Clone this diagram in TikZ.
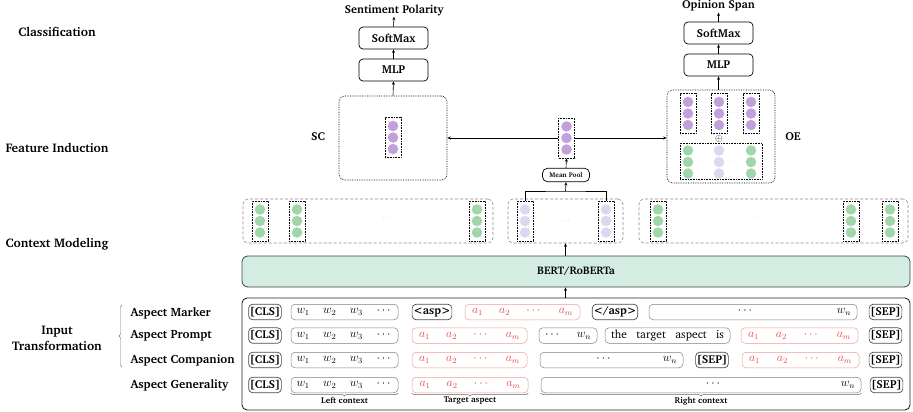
\documentclass[tikz,border=0pt]{standalone}
\usepackage[T1]{fontenc}
\usepackage{charter}
\usepackage{amsmath,amssymb}
\usetikzlibrary{arrows.meta,decorations.pathreplacing}

\definecolor{dotGreen}{RGB}{160,214,170}
\definecolor{dotLav}{RGB}{217,217,240}
\definecolor{dotPurple}{RGB}{193,160,220}
\definecolor{bertFill}{RGB}{212,237,227}
\definecolor{aspRed}{RGB}{232,72,72}

\tikzstyle{greenDot}=[shape = circle, minimum size = 10.5pt, inner sep = 0pt, fill = dotGreen]
\tikzstyle{lavDot}=[shape = circle, minimum size = 10.5pt, inner sep = 0pt, fill = dotLav]
\tikzstyle{purpleDot}=[shape = circle, minimum size = 10.5pt, inner sep = 0pt, fill = dotPurple]
\tikzstyle{vecCol}=[shape = rectangle, minimum width = 16pt, minimum height = 40pt, inner sep = 0pt, draw, densely dotted, line width = 0.6pt]
\tikzstyle{layerBox}=[shape = rectangle, rounded corners = 4pt, minimum width = 69pt, minimum height = 22pt, draw, line width = 0.7pt, font = \bfseries\fontsize{11.5}{13}\selectfont]
\tikzstyle{stageLabel}=[font = \bfseries\fontsize{12.5}{16}\selectfont]
\tikzstyle{arrowLine}=[-{Stealth[length = 3.5pt, width = 3pt]}, line width = 0.6pt]

% one feature vector: dotted frame and three dots
\newcommand{\vecColumn}[4]{%
  \node[vecCol] (#1) at (#2,#3) {};
  \node[#4] (#1a) at (#2,#3-11.5) {};
  \node[#4] (#1b) at (#2,#3) {};
  \node[#4] (#1c) at (#2,#3+11.5) {};
}
\newcommand{\spread}[2]{\hbox to #1{#2}}

\begin{document}
\begin{tikzpicture}[x = 1pt, y = -1pt]
\tikzstyle{specialTok}=[shape = rectangle, rounded corners = 4pt, minimum height = 15.5pt, inner sep = 1.2pt, draw = black!70, line width = 0.7pt, font = \bfseries\fontsize{11.5}{13}\selectfont]
\tikzstyle{wordTok}=[shape = rectangle, rounded corners = 4pt, minimum height = 15.5pt, inner sep = 0pt, draw = black!50, line width = 0.5pt, font = \fontsize{11.5}{13}\selectfont]
\tikzstyle{aspectTok}=[wordTok, draw = aspRed!55, text = aspRed]
\tikzstyle{ctxBox}=[shape = rectangle, rounded corners = 5pt, minimum height = 44pt, inner sep = 0pt, draw = black!45, densely dashed, line width = 0.6pt]
\tikzstyle{headBox}=[shape = rectangle, rounded corners = 6pt, inner sep = 0pt, draw, densely dotted, line width = 0.7pt]
\tikzstyle{rowLabel}=[anchor = west, font = \bfseries\fontsize{12}{14}\selectfont]
\tikzstyle{headLabel}=[font = \bfseries\fontsize{11.5}{13}\selectfont]
\tikzstyle{braceLine}=[decorate, decoration = {brace, mirror, amplitude = 3pt}, black!60, line width = 0.5pt]
\tikzstyle{braceText}=[midway, below = 0.3pt, black, font = \bfseries\fontsize{8.5}{10}\selectfont]
\tikzstyle{smallDots}=[text = black!60, font = \tiny]
\useasboundingbox (0,0) rectangle (913,412);

% stage names
\node[stageLabel] (clsStage) at (57,32) {Classification};
\node[stageLabel] (featStage) at (57,148) {Feature Induction};
\node[stageLabel] (ctxStage) at (57,244) {Context Modeling};
\node[stageLabel, align = center] (inStage) at (57,338) {Input\\Transformation};

\node[rowLabel] (markerLbl) at (127,313) {Aspect Marker};
\node[rowLabel] (promptLbl) at (127,335.5) {Aspect Prompt};
\node[rowLabel] (compLbl) at (127,360.5) {Aspect Companion};
\node[rowLabel] (genLbl) at (127,385.5) {Aspect Generality};
\draw[decorate, decoration = {brace, amplitude = 3pt}, black!55, line width = 0.4pt] (122,367) -- (122,305);

% input sequences
\node[shape = rectangle, rounded corners = 5pt, minimum width = 668pt, minimum height = 112pt, draw = black!85, line width = 0.9pt] (inputFrame) at (576,354) {};

\node[specialTok] (cls1) at (265,312) {[CLS]};
\node[wordTok, minimum width = 107pt] (left1) at (344.5,312) {\spread{96pt}{$w_1$\hfill$w_2$\hfill$w_3$\hfill$\cdots$}};
\node[specialTok] (aspOpen) at (432,312) {\textless asp\textgreater};
\node[aspectTok, minimum width = 115pt] (tgt1) at (522.5,312) {\spread{101pt}{$a_1$\hfill$a_2$\hfill$\cdots$\hfill$a_m$}};
\node[specialTok] (aspClose) at (615,312) {\textless/asp\textgreater};
\node[wordTok, minimum width = 208pt] (right1) at (753,312) {\spread{196pt}{\hfill$\cdots$\hfill$w_n$}};
\node[specialTok] (sep1) at (885.5,312) {[SEP]};

\node[specialTok] (cls2) at (265,335.5) {[CLS]};
\node[wordTok, minimum width = 107pt] (left2) at (344.5,335.5) {\spread{96pt}{$w_1$\hfill$w_2$\hfill$w_3$\hfill$\cdots$}};
\node[aspectTok, minimum width = 115pt] (tgt2) at (469.5,335.5) {\spread{101pt}{$a_1$\hfill$a_2$\hfill$\cdots$\hfill$a_m$}};
\node[wordTok, minimum width = 58pt] (right2) at (568,335.5) {\spread{46pt}{$\cdots$\hfill$w_n$}};
\node[wordTok, minimum width = 125pt] (prompt2) at (667.5,335.5) {\spread{113pt}{the\hfill target\hfill aspect\hfill is}};
\node[aspectTok, minimum width = 117pt] (tgt2b) at (799.5,335.5) {\spread{103pt}{$a_1$\hfill$a_2$\hfill$\cdots$\hfill$a_m$}};
\node[specialTok] (sep2) at (885.5,335.5) {[SEP]};

\node[specialTok] (cls3) at (265,360) {[CLS]};
\node[wordTok, minimum width = 107pt] (left3) at (344.5,360) {\spread{96pt}{$w_1$\hfill$w_2$\hfill$w_3$\hfill$\cdots$}};
\node[aspectTok, minimum width = 115pt] (tgt3) at (469.5,360) {\spread{101pt}{$a_1$\hfill$a_2$\hfill$\cdots$\hfill$a_m$}};
\node[wordTok, minimum width = 143pt] (right3) at (611.5,360) {\spread{131pt}{\hfill$\cdots$\hfill$w_n$}};
\node[specialTok] (sep3a) at (712,360) {[SEP]};
\node[aspectTok, minimum width = 117pt] (tgt3b) at (800.5,360) {\spread{103pt}{$a_1$\hfill$a_2$\hfill$\cdots$\hfill$a_m$}};
\node[specialTok] (sep3) at (885.5,360) {[SEP]};

\node[specialTok] (cls4) at (265,385) {[CLS]};
\node[wordTok, minimum width = 107pt] (left4) at (344.5,385) {\spread{96pt}{$w_1$\hfill$w_2$\hfill$w_3$\hfill$\cdots$}};
\node[aspectTok, minimum width = 116pt] (tgt4) at (470,385) {\spread{101pt}{$a_1$\hfill$a_2$\hfill$\cdots$\hfill$a_m$}};
\node[wordTok, minimum width = 320pt] (right4) at (701,385) {\spread{308pt}{\hfill$\cdots$\hspace{119pt}$w_n$}};
\node[specialTok] (sep4) at (886.5,385) {[SEP]};

\draw[braceLine] (left4.south west) -- (left4.south east) node[braceText] (leftCtx) {Left context};
\draw[braceLine] (tgt4.south west) -- (tgt4.south east) node[braceText] (tgtCtx) {Target aspect};
\draw[braceLine] (right4.south west) -- (right4.south east) node[braceText] (rightCtx) {Right context};

% encoder
\node[shape = rectangle, rounded corners = 6pt, minimum width = 668pt, minimum height = 31pt, draw = black!75, fill = bertFill, line width = 0.8pt, font = \bfseries\fontsize{11}{13}\selectfont] (bert) at (576,271.5) {BERT/RoBERTa};

% contextual representations
\node[ctxBox, minimum width = 250pt] (ctxA) at (368,221) {};
\node[ctxBox, minimum width = 115pt] (ctxB) at (565.5,221) {};
\node[ctxBox, minimum width = 269pt] (ctxC) at (773.5,221) {};
\vecColumn{hA1}{260}{221}{greenDot}
\vecColumn{hA2}{297}{221}{greenDot}
\vecColumn{hA3}{477}{221}{greenDot}
\vecColumn{hB1}{525}{221}{lavDot}
\vecColumn{hB2}{606}{221}{lavDot}
\vecColumn{hC1}{658}{221}{greenDot}
\vecColumn{hC2}{851}{221}{greenDot}
\vecColumn{hC3}{890}{221}{greenDot}
\node[smallDots] (dotsA) at (388,218) {$\cdots$};
\node[smallDots] (dotsB) at (565.5,221) {$\cdots$};
\node[smallDots] (dotsC) at (755,218) {$\cdots$};

\draw[arrowLine] (inputFrame.north -| ctxB.south) -- (bert.south -| ctxB.south);
\draw[arrowLine] (bert.north -| ctxB.south) -- (ctxB.south);

% pooling of the aspect tokens
\coordinate (poolJoin) at (565.5,191);
\node[shape = rectangle, rounded corners = 5pt, minimum width = 47pt, minimum height = 13.5pt, inner sep = 1pt, draw, line width = 0.7pt, font = \bfseries\fontsize{6.8}{7}\selectfont] (meanPool) at (566,175) {Mean Pool};
\vecColumn{pooled}{566.5}{138}{purpleDot}
\draw[line width = 0.6pt] (hB1.north) |- (poolJoin) -| (hB2.north);
\draw[arrowLine] (poolJoin) -- (meanPool.south);
\draw[arrowLine] (meanPool.north) -- (pooled.south);

% sentiment classification head
\node[headBox, minimum width = 108pt, minimum height = 84pt] (scBox) at (393,138) {};
\node[headLabel] (scLbl) at (318,137) {SC};
\vecColumn{scVec}{393}{137.5}{purpleDot}
\node[layerBox] (scMlp) at (393.5,70) {MLP};
\node[layerBox] (scSoft) at (393.5,38) {SoftMax};
\node[headLabel, inner sep = 1pt] (scOut) at (394,10) {Sentiment Polarity};
\draw[arrowLine] (pooled.west) -- (scBox.east);
\draw[arrowLine] (scBox.north) -- (scMlp.south);
\draw[arrowLine] (scMlp.north) -- (scSoft.south);
\draw[arrowLine] (scSoft.north) -- (scOut.south);

% opinion extraction head
\node[headBox, minimum width = 108pt, minimum height = 93pt] (oeBox) at (721,136.5) {};
\node[headLabel] (oeLbl) at (793,137) {OE};
\vecColumn{oeV1}{688}{113.5}{purpleDot}
\vecColumn{oeV2}{719}{113.5}{purpleDot}
\vecColumn{oeV3}{751}{113.5}{purpleDot}
\node[smallDots] (oeDots1) at (703.5,113) {$\cdots$};
\node[smallDots] (oeDots2) at (735,113) {$\cdots$};
\node[inner sep = 0pt] (oePlus) at (719,138.5) {$\oplus$};
\node[shape = rectangle, minimum width = 82pt, minimum height = 36pt, inner sep = 0pt, draw, densely dotted, line width = 0.6pt] (oeCtx) at (721,161) {};
\node[greenDot] (oeG1a) at (688,150.5) {};
\node[greenDot] (oeG1b) at (688,162) {};
\node[greenDot] (oeG1c) at (688,173.5) {};
\node[lavDot] (oeL2a) at (719,150.5) {};
\node[lavDot] (oeL2b) at (719,162) {};
\node[lavDot] (oeL2c) at (719,173.5) {};
\node[greenDot] (oeG3a) at (751,150.5) {};
\node[greenDot] (oeG3b) at (751,162) {};
\node[greenDot] (oeG3c) at (751,173.5) {};
\node[smallDots] (oeDots3) at (703.5,162) {$\cdots$};
\node[smallDots] (oeDots4) at (735,162) {$\cdots$};
\node[layerBox] (oeMlp) at (718.5,65) {MLP};
\node[layerBox] (oeSoft) at (718.5,33) {SoftMax};
\node[headLabel, inner sep = 1pt] (oeOut) at (718.5,6) {Opinion Span};
\draw[arrowLine] (pooled.east) -- (pooled.east -| oeBox.west);
\draw[arrowLine] (oeBox.north -| oeMlp.south) -- (oeMlp.south);
\draw[arrowLine] (oeMlp.north) -- (oeSoft.south);
\draw[arrowLine] (oeSoft.north) -- (oeOut.south);
\end{tikzpicture}
\end{document}
